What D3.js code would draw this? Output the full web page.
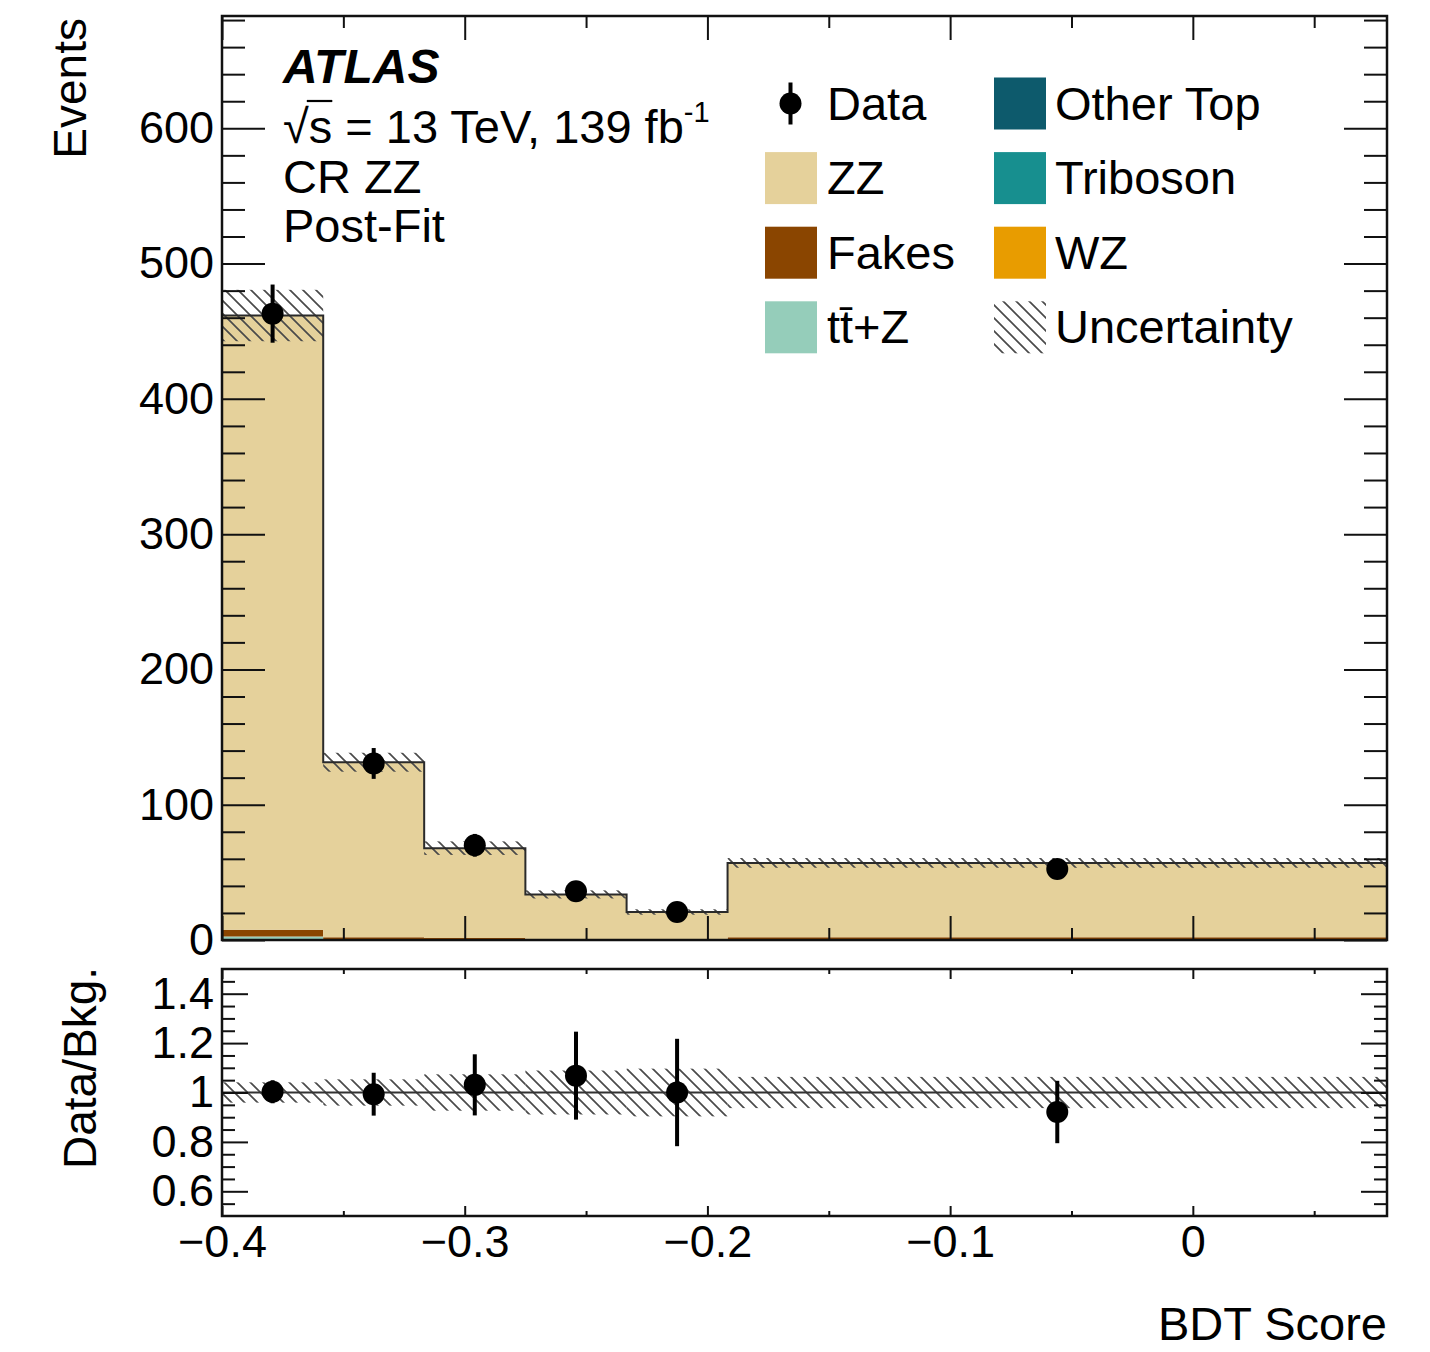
<!DOCTYPE html>
<html>
<head>
<meta charset="utf-8">
<script src="https://cdn.jsdelivr.net/npm/d3@7"></script>
<style>
  body { margin: 0; background: #fff; }
  svg { display: block; font-family: "Liberation Sans", Arial, Helvetica, sans-serif; }
</style>
</head>
<body>
<svg id="chart" width="1430" height="1352"></svg>
<script>
// ---- data: BDT score distribution in CR ZZ (post-fit) ----
const binEdges   = [-0.4, -0.3583, -0.3167, -0.275, -0.2333, -0.1917, 0.08];
const zz         = [454.0, 129.3, 66.4, 33.0, 20.2, 55.0];
const fakes      = [5.0, 1.3, 1.0, 0.4, 0.25, 1.4];
const ttZ        = [1.8, 0.5, 0.3, 0.15, 0.1, 0.3];
const otherTop   = [0.3, 0.1, 0.05, 0.05, 0.05, 0.1];
const triboson   = [0.2, 0.1, 0.05, 0.05, 0.05, 0.1];
const wz         = [0.3, 0.1, 0.1, 0.05, 0.05, 0.1];
const dataEvents = [463, 130.5, 70, 36, 20.7, 52.5];
const dataErr    = [21.5, 11.4, 8.4, 6.0, 4.5, 7.2];
const bkgUnc     = [19, 7, 5, 3, 2, 3.6];

const mainYTicks  = [0, 100, 200, 300, 400, 500, 600];
const ratioYTicks = [0.6, 0.8, 1, 1.2, 1.4];
const xTicks      = [-0.4, -0.3, -0.2, -0.1, 0];

// stacking order, bottom to top
const sampleKeys   = ["wz", "triboson", "otherTop", "ttZ", "fakes", "zz"];
const sampleValues = { wz, triboson, otherTop, ttZ, fakes, zz };
const sampleColors = {
  zz: "#e5d19b", fakes: "#8a4500", ttZ: "#95cdba",
  otherTop: "#0d5a6c", triboson: "#178f8f", wz: "#e89c00"
};

// ---- layout ----
const L = 222, R = 1387;
const mainTop = 16, mainBot = 940;
const ratTop = 969, ratBot = 1216;
const FS = 45;      // tick labels
const FS_T = 46;    // axis titles
const FS_L = 47;    // legend and label block

const svg = d3.select("#chart");
const defs = svg.append("defs");
const hatch = defs.append("pattern").attr("id", "hatch")
  .attr("patternUnits", "userSpaceOnUse").attr("width", 13).attr("height", 13);
hatch.append("path")
  .attr("d", "M-2,-2 L15,15 M-2,11 L2,15 M11,-2 L15,2")
  .attr("stroke", "#4a4a4a").attr("stroke-width", 1.7).attr("fill", "none");

const x  = d3.scaleLinear().domain([-0.4, 0.08]).range([L, R]);
const y  = d3.scaleLinear().domain([0, 683]).range([mainBot, mainTop]);
const yr = d3.scaleLinear().domain([0.5, 1.5]).range([ratBot, ratTop]);

// per-bin table for the stack
const bins = binEdges.slice(0, -1).map((lo, i) => {
  const row = { lo, hi: binEdges[i + 1], i };
  sampleKeys.forEach(k => row[k] = sampleValues[k][i]);
  return row;
});
const stacked = d3.stack().keys(sampleKeys)(bins);
const total = bins.map(b => d3.sum(sampleKeys, k => b[k]));
const centers = bins.map(b => (b.lo + b.hi) / 2);
const lastEdge = binEdges[binEdges.length - 1];

// ---- main panel ----
const main = svg.append("g");

// each stacked sample drawn as a step-shaped area
const stepArea = d3.area().curve(d3.curveStepAfter)
  .x(d => x(d.x)).y0(d => y(d.y0)).y1(d => y(d.y1));
main.selectAll("path.layer").data(stacked).join("path")
  .attr("class", "layer")
  .attr("fill", d => sampleColors[d.key])
  .attr("d", layer => {
    const pts = layer.map(d => ({ x: d.data.lo, y0: d[0], y1: d[1] }));
    const last = layer[layer.length - 1];
    pts.push({ x: lastEdge, y0: last[0], y1: last[1] });
    return stepArea(pts);
  });

// uncertainty band on the total
main.append("g").selectAll("rect").data(bins).join("rect")
  .attr("x", d => x(d.lo))
  .attr("width", d => x(d.hi) - x(d.lo))
  .attr("y", d => y(total[d.i] + bkgUnc[d.i]))
  .attr("height", d => y(total[d.i] - bkgUnc[d.i]) - y(total[d.i] + bkgUnc[d.i]))
  .attr("fill", "url(#hatch)");

// outline of the stacked total
const stepPts = bins.map(b => [b.lo, total[b.i]]).concat([[lastEdge, total[total.length - 1]]]);
main.append("path")
  .attr("d", d3.line().x(d => x(d[0])).y(d => y(d[1])).curve(d3.curveStepAfter)(stepPts))
  .attr("fill", "none").attr("stroke", "#2a2a2a").attr("stroke-width", 2);

// data points
const dp = main.append("g");
dp.selectAll("line").data(bins).join("line")
  .attr("x1", d => x(centers[d.i])).attr("x2", d => x(centers[d.i]))
  .attr("y1", d => y(dataEvents[d.i] - dataErr[d.i]))
  .attr("y2", d => y(dataEvents[d.i] + dataErr[d.i]))
  .attr("stroke", "#000").attr("stroke-width", 4);
dp.selectAll("circle").data(bins).join("circle")
  .attr("cx", d => x(centers[d.i])).attr("cy", d => y(dataEvents[d.i]))
  .attr("r", 11).attr("fill", "#000");

// ---- ratio panel ----
const rat = svg.append("g");
rat.append("g").selectAll("rect").data(bins).join("rect")
  .attr("x", d => x(d.lo))
  .attr("width", d => x(d.hi) - x(d.lo))
  .attr("y", d => yr(1 + bkgUnc[d.i] / total[d.i]))
  .attr("height", d => yr(1 - bkgUnc[d.i] / total[d.i]) - yr(1 + bkgUnc[d.i] / total[d.i]))
  .attr("fill", "url(#hatch)");
rat.append("line")
  .attr("x1", L).attr("x2", R).attr("y1", yr(1)).attr("y2", yr(1))
  .attr("stroke", "#333").attr("stroke-width", 2);
rat.selectAll("line.err").data(bins).join("line").attr("class", "err")
  .attr("x1", d => x(centers[d.i])).attr("x2", d => x(centers[d.i]))
  .attr("y1", d => yr((dataEvents[d.i] - dataErr[d.i]) / total[d.i]))
  .attr("y2", d => yr((dataEvents[d.i] + dataErr[d.i]) / total[d.i]))
  .attr("stroke", "#000").attr("stroke-width", 4);
rat.selectAll("circle").data(bins).join("circle")
  .attr("cx", d => x(centers[d.i])).attr("cy", d => yr(dataEvents[d.i] / total[d.i]))
  .attr("r", 11).attr("fill", "#000");

// ---- axes (ticks on all four sides, pointing inward) ----
function axis(gen, tx, ty, values, size, fmt, pad) {
  const g = svg.append("g").attr("transform", `translate(${tx},${ty})`)
    .call(gen.tickValues(values).tickSize(size).tickPadding(pad || 8)
      .tickFormat(fmt || (() => "")));
  g.attr("font-family", null).attr("font-size", FS);
  g.select(".domain").remove();
  g.selectAll(".tick line").attr("stroke", "#111").attr("stroke-width", 2);
  g.selectAll(".tick text").attr("fill", "#000");
  return g;
}

const yMinorMain = d3.range(20, 683, 20).filter(v => v % 100 !== 0);
const xMinor = d3.range(-0.35, 0.08, 0.1).map(v => +v.toFixed(3));
const yMinorRat = d3.range(0.55, 1.5, 0.05).map(v => +v.toFixed(2))
  .filter(v => Math.abs(v * 10 - Math.round(v * 10)) > 1e-6 || Math.round(v * 10) % 2 === 1);

// main panel
axis(d3.axisLeft(y), L, 0, mainYTicks, -43, d3.format("d"), 8);
axis(d3.axisLeft(y), L, 0, yMinorMain, -23);
axis(d3.axisRight(y), R, 0, mainYTicks, -43);
axis(d3.axisRight(y), R, 0, yMinorMain, -23);
axis(d3.axisBottom(x), 0, mainBot, xTicks, -24);
axis(d3.axisBottom(x), 0, mainBot, xMinor, -12);
axis(d3.axisTop(x), 0, mainTop, xTicks, -24);
axis(d3.axisTop(x), 0, mainTop, xMinor, -12);

// ratio panel
axis(d3.axisLeft(yr), L, 0, ratioYTicks, -26, d3.format("~g"), 8);
axis(d3.axisLeft(yr), L, 0, yMinorRat, -13);
axis(d3.axisRight(yr), R, 0, ratioYTicks, -26);
axis(d3.axisRight(yr), R, 0, yMinorRat, -13);
axis(d3.axisBottom(x), 0, ratBot, xTicks, -10, d => d === 0 ? "0" : d3.format(".1f")(d), 9);
axis(d3.axisBottom(x), 0, ratBot, xMinor, -5);
axis(d3.axisTop(x), 0, ratTop, xTicks, -10);
axis(d3.axisTop(x), 0, ratTop, xMinor, -5);

// frames
[[mainTop, mainBot], [ratTop, ratBot]].forEach(([t, b]) => {
  svg.append("rect").attr("x", L).attr("y", t).attr("width", R - L).attr("height", b - t)
    .attr("fill", "none").attr("stroke", "#111").attr("stroke-width", 2.5);
});

// ---- axis titles ----
svg.append("text").attr("transform", "translate(86,18) rotate(-90)")
  .attr("text-anchor", "end").attr("font-size", FS_T).text("Events");
svg.append("text").attr("transform", "translate(96,967) rotate(-90)")
  .attr("text-anchor", "end").attr("font-size", FS_T).text("Data/Bkg.");
svg.append("text").attr("x", R).attr("y", 1340)
  .attr("text-anchor", "end").attr("font-size", FS_L).text("BDT Score");

// ---- ATLAS label block ----
svg.append("text").attr("x", 283).attr("y", 83).attr("font-size", 48)
  .attr("font-weight", "bold").attr("font-style", "italic").text("ATLAS");
const lumi = svg.append("text").attr("x", 283).attr("y", 143).attr("font-size", FS_L);
lumi.append("tspan").text("\u221As = 13 TeV, 139 fb");
lumi.append("tspan").attr("font-size", 29).attr("dy", -21).text("-1");
{
  const n = lumi.node();
  const e0 = n.getExtentOfChar(0), e1 = n.getExtentOfChar(1);
  svg.append("line")
    .attr("x1", e0.x + e0.width - 2).attr("x2", e1.x + e1.width)
    .attr("y1", 143 - 42).attr("y2", 143 - 42)
    .attr("stroke", "#000").attr("stroke-width", 2.2);
}
svg.append("text").attr("x", 283).attr("y", 193).attr("font-size", FS_L).text("CR ZZ");
svg.append("text").attr("x", 283).attr("y", 242).attr("font-size", FS_L).text("Post-Fit");

// ---- legend ----
const legendItems = [
  { label: "Data", col: 0, row: 0, type: "data" },
  { label: "ZZ", col: 0, row: 1, key: "zz" },
  { label: "Fakes", col: 0, row: 2, key: "fakes" },
  { label: "tt\u0304+Z", col: 0, row: 3, key: "ttZ" },
  { label: "Other Top", col: 1, row: 0, key: "otherTop" },
  { label: "Triboson", col: 1, row: 1, key: "triboson" },
  { label: "WZ", col: 1, row: 2, key: "wz" },
  { label: "Uncertainty", col: 1, row: 3, type: "unc" }
];
const colBox = [765, 994], colText = [827, 1055];
const rowY = r => 103.5 + r * 74.6;
const leg = svg.append("g");
legendItems.forEach(it => {
  const cy = rowY(it.row);
  if (it.type === "data") {
    const cx = colBox[it.col] + 25.5;
    leg.append("line").attr("x1", cx).attr("x2", cx).attr("y1", cy - 21).attr("y2", cy + 21)
      .attr("stroke", "#000").attr("stroke-width", 4);
    leg.append("circle").attr("cx", cx).attr("cy", cy).attr("r", 11).attr("fill", "#000");
  } else {
    leg.append("rect").attr("x", colBox[it.col]).attr("y", cy - 26)
      .attr("width", 52).attr("height", 52)
      .attr("fill", it.type === "unc" ? "url(#hatch)" : sampleColors[it.key]);
  }
  leg.append("text").attr("x", colText[it.col]).attr("y", cy + 16)
    .attr("font-size", FS_L).text(it.label);
});
</script>
</body>
</html>
